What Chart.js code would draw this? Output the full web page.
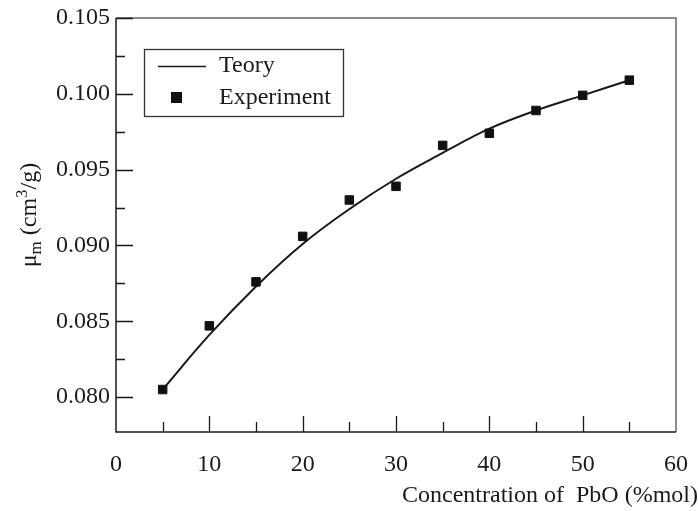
<!DOCTYPE html>
<html>
<head>
<meta charset="utf-8">
<script src="https://cdn.jsdelivr.net/npm/chart.js@4/dist/chart.umd.min.js"></script>
<style>
  html, body { margin: 0; padding: 0; background: #fff; }
  #wrap { width: 698px; height: 511px; }
</style>
</head>
<body>
<div id="wrap"><canvas id="c" width="698" height="511"></canvas></div>
<script>
// PbO concentration (%mol)
const concentration = [5, 10, 15, 20, 25, 30, 35, 40, 45, 50, 55];
// mass attenuation coefficient, measured (cm3/g)
const experiment = [0.0805, 0.0847, 0.0876, 0.0906, 0.0930, 0.0939, 0.0966, 0.0974, 0.0989, 0.0999, 0.1009];
// mass attenuation coefficient, calculated (cm3/g)
const theory = [0.0805, 0.0841, 0.0873, 0.0901, 0.0924, 0.0944, 0.0961, 0.0977, 0.0989, 0.0999, 0.1009];

const xTickValues = [0, 10, 20, 30, 40, 50, 60];
const xMinorValues = [5, 15, 25, 35, 45, 55];
const yTickValues = [0.080, 0.085, 0.090, 0.095, 0.100, 0.105];
const yMinorValues = [0.0825, 0.0875, 0.0925, 0.0975, 0.1025];

const FONT = "'Liberation Serif', 'Times New Roman', serif";
const INK = '#1a1a1a';

const toPoints = (xs, ys) => xs.map((x, i) => ({ x, y: ys[i] }));

// axis frame plus inward major/minor tick marks
const frameAndTicks = {
  id: 'frameAndTicks',
  beforeDatasetsDraw(chart) {
    const { ctx, chartArea: a, scales: { x, y } } = chart;
    ctx.save();
    ctx.lineWidth = 1.5;
    ctx.strokeStyle = '#666';
    ctx.beginPath();
    ctx.moveTo(a.left, a.top);
    ctx.lineTo(a.right, a.top);
    ctx.lineTo(a.right, a.bottom);
    ctx.stroke();
    ctx.strokeStyle = INK;
    ctx.beginPath();
    ctx.moveTo(a.left, a.top);
    ctx.lineTo(a.left, a.bottom);
    ctx.lineTo(a.right, a.bottom);
    ctx.stroke();

    ctx.lineWidth = 1.3;
    ctx.beginPath();
    const xt = (v, len) => {
      const px = Math.round(x.getPixelForValue(v)) + 0.5;
      ctx.moveTo(px, a.bottom);
      ctx.lineTo(px, a.bottom - len);
    };
    const yt = (v, len) => {
      const py = Math.round(y.getPixelForValue(v)) + 0.5;
      ctx.moveTo(a.left, py);
      ctx.lineTo(a.left + len, py);
    };
    xTickValues.slice(1, -1).forEach(v => xt(v, 16));
    xMinorValues.forEach(v => xt(v, 10));
    yTickValues.forEach(v => yt(v, 17));
    yMinorValues.forEach(v => yt(v, 9));
    ctx.stroke();
    ctx.restore();
  }
};

// axis titles and boxed legend
const annotations = {
  id: 'annotations',
  afterDraw(chart) {
    const { ctx } = chart;
    ctx.save();
    ctx.fillStyle = INK;

    // x-axis title
    ctx.font = `24px ${FONT}`;
    ctx.textAlign = 'right';
    ctx.textBaseline = 'alphabetic';
    ctx.fillText('Concentration of  PbO (%mol)', 698, 502);

    // y-axis title with sub/superscript, rotated
    const parts = [
      { t: 'μ', size: 24, dy: 0 },
      { t: 'm', size: 17, dy: 5 },
      { t: ' (cm', size: 24, dy: 0 },
      { t: '3', size: 17, dy: -9 },
      { t: '/g)', size: 24, dy: 0 }
    ];
    let total = 0;
    parts.forEach(p => { ctx.font = `${p.size}px ${FONT}`; p.w = ctx.measureText(p.t).width; total += p.w; });
    ctx.translate(36, 215);
    ctx.rotate(-Math.PI / 2);
    ctx.textAlign = 'left';
    let u = -total / 2;
    parts.forEach(p => {
      ctx.font = `${p.size}px ${FONT}`;
      ctx.fillText(p.t, u, p.dy);
      u += p.w;
    });
    ctx.setTransform(1, 0, 0, 1, 0, 0);

    // legend box
    const ds = chart.data.datasets;
    ctx.strokeStyle = '#333';
    ctx.lineWidth = 1.3;
    ctx.strokeRect(144.5, 49.5, 199, 67);
    ctx.strokeStyle = INK;
    ctx.lineWidth = 1.5;
    ctx.beginPath();
    ctx.moveTo(158, 66.5);
    ctx.lineTo(206, 66.5);
    ctx.stroke();
    ctx.fillStyle = '#111';
    ctx.fillRect(171, 92, 11, 11);
    ctx.fillStyle = INK;
    ctx.font = `24px ${FONT}`;
    ctx.textAlign = 'left';
    ctx.textBaseline = 'middle';
    ctx.fillText(ds[1].label, 219, 66);
    ctx.fillText(ds[0].label, 219, 98);
    ctx.restore();
  }
};

new Chart(document.getElementById('c'), {
  type: 'scatter',
  data: {
    datasets: [
      {
        label: 'Experiment',
        data: toPoints(concentration, experiment),
        showLine: false,
        pointStyle: 'rect',
        pointRadius: 6,
        pointHoverRadius: 6,
        backgroundColor: '#111',
        borderColor: '#111',
        borderWidth: 1
      },
      {
        label: 'Teory',
        type: 'line',
        data: toPoints(concentration, theory),
        borderColor: INK,
        borderWidth: 2,
        pointRadius: 0,
        fill: false,
        tension: 0.4
      }
    ]
  },
  options: {
    responsive: false,
    animation: false,
    devicePixelRatio: 1,
    layout: { padding: { top: 18, right: 22, left: 0, bottom: 0 } },
    plugins: { legend: { display: false }, tooltip: { enabled: false } },
    scales: {
      x: {
        type: 'linear',
        position: 'bottom',
        min: 0,
        max: 60,
        grid: { display: false, drawTicks: false },
        border: { display: false },
        afterBuildTicks: s => { s.ticks = xTickValues.map(v => ({ value: v })); },
        afterFit: s => { s.height = 79; s.paddingLeft = 0; s.paddingRight = 0; },
        ticks: {
          padding: 18,
          maxRotation: 0,
          autoSkip: false,
          color: INK,
          font: { family: FONT, size: 24 },
          callback: v => String(v)
        }
      },
      y: {
        type: 'linear',
        position: 'left',
        min: 0.0777,
        max: 0.105,
        grid: { display: false, drawTicks: false },
        border: { display: false },
        afterBuildTicks: s => { s.ticks = yTickValues.map(v => ({ value: v })); },
        afterFit: s => { s.width = 116; s.paddingTop = 0; s.paddingBottom = 0; },
        ticks: {
          padding: 6,
          autoSkip: false,
          color: INK,
          font: { family: FONT, size: 24 },
          callback: v => v.toFixed(3)
        }
      }
    }
  },
  plugins: [frameAndTicks, annotations]
});
</script>
</body>
</html>
